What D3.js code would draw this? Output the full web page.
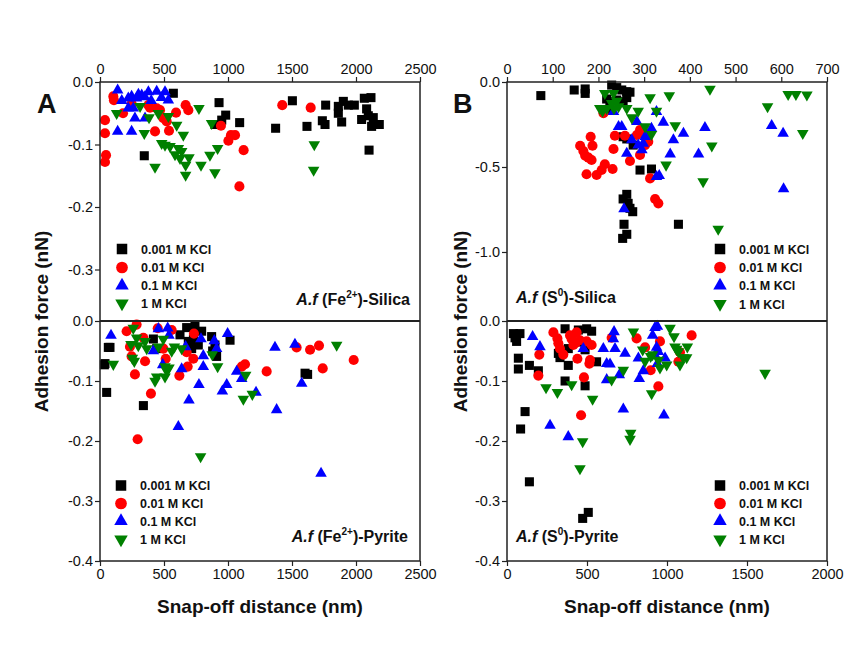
<!DOCTYPE html>
<html>
<head>
<meta charset="utf-8">
<script src="https://cdn.jsdelivr.net/npm/d3@7"></script>
<style>
  html, body { margin: 0; padding: 0; background: #fff; }
  svg { display: block; font-family: Arial, "Liberation Sans", sans-serif; }
</style>
</head>
<body>
<svg id="chart" width="863" height="658"></svg>
<script>
// ---------------- DATA ----------------
const seriesNames = ["0.001 M KCl", "0.01 M KCl", "0.1 M KCl", "1 M KCl"];
const seriesColors = ["#000000", "#ff0000", "#0000ff", "#008000"];

// Panel A top: A.f (Fe2+)-Silica  [snap-off distance nm, adhesion force nN]
const feSilica001 = [[346,-0.118],[573,-0.018],[930,-0.033],[982,-0.053],[951,-0.061],[898,-0.068],[1091,-0.065],[1372,-0.074],[1503,-0.03],[1617,-0.071],[1737,-0.062],[1758,-0.068],[1763,-0.037],[1888,-0.064],[1862,-0.039],[1901,-0.031],[1940,-0.037],[1987,-0.037],[1862,-0.05],[2065,-0.026],[2117,-0.025],[2083,-0.043],[2044,-0.06],[2096,-0.054],[2135,-0.057],[2122,-0.071],[2182,-0.068],[2102,-0.109]];
const feSilica01 = [[104,-0.023],[109,-0.029],[39,-0.061],[39,-0.082],[47,-0.117],[39,-0.128],[378,-0.037],[443,-0.042],[469,-0.045],[495,-0.058],[521,-0.063],[594,-0.049],[669,-0.037],[690,-0.045],[430,-0.079],[539,-0.078],[945,-0.07],[1023,-0.085],[1055,-0.085],[1003,-0.094],[1122,-0.109],[1089,-0.167],[1424,-0.037],[1646,-0.041],[391,-0.041],[247,-0.035],[180,-0.05]];
const feSilica1 = [[138,-0.013],[221,-0.026],[247,-0.023],[286,-0.026],[326,-0.021],[378,-0.016],[443,-0.015],[508,-0.016],[534,-0.029],[221,-0.042],[260,-0.042],[273,-0.058],[247,-0.079],[138,-0.079],[352,-0.058],[300,-0.02],[350,-0.024],[480,-0.025],[400,-0.03],[170,-0.03]];
const feSilica10 = [[130,-0.05],[313,-0.039],[456,-0.05],[534,-0.055],[599,-0.069],[383,-0.057],[346,-0.082],[651,-0.085],[773,-0.042],[872,-0.066],[482,-0.098],[508,-0.101],[547,-0.103],[612,-0.106],[638,-0.111],[586,-0.116],[625,-0.122],[695,-0.121],[669,-0.133],[669,-0.149],[430,-0.136],[789,-0.133],[859,-0.117],[919,-0.106],[898,-0.145],[1674,-0.1],[1669,-0.141]];

// Panel A bottom: A.f (Fe2+)-Pyrite
const fePyrite001 = [[65,-0.044],[78,-0.044],[39,-0.071],[34,-0.073],[52,-0.119],[339,-0.141],[417,-0.03],[443,-0.046],[625,-0.023],[677,-0.011],[742,-0.009],[794,-0.017],[690,-0.034],[716,-0.046],[768,-0.04],[872,-0.026],[898,-0.04],[911,-0.059],[1016,-0.032],[1602,-0.087],[1622,-0.089],[730,-0.03],[700,-0.04],[880,-0.05]];
const fePyrite01 = [[208,-0.017],[286,-0.006],[234,-0.043],[247,-0.059],[352,-0.067],[339,-0.028],[273,-0.089],[398,-0.121],[294,-0.197],[451,-0.012],[560,-0.015],[495,-0.046],[513,-0.063],[677,-0.052],[729,-0.063],[685,-0.076],[620,-0.091],[734,-0.021],[1107,-0.076],[1133,-0.072],[1302,-0.084],[1536,-0.044],[1641,-0.048],[1711,-0.041],[1740,-0.079],[1982,-0.065]];
const fePyrite1 = [[86,-0.024],[456,-0.013],[529,-0.012],[539,-0.024],[417,-0.05],[490,-0.073],[638,-0.08],[669,-0.043],[789,-0.03],[807,-0.058],[807,-0.076],[773,-0.106],[695,-0.132],[612,-0.176],[893,-0.033],[911,-0.046],[997,-0.021],[990,-0.106],[956,-0.117],[1107,-0.096],[1068,-0.084],[1219,-0.119],[1367,-0.044],[1380,-0.148],[1523,-0.039],[1576,-0.104],[1727,-0.254]];
const fePyrite10 = [[260,-0.012],[286,-0.028],[242,-0.039],[299,-0.041],[352,-0.034],[365,-0.046],[253,-0.062],[268,-0.067],[104,-0.072],[495,-0.03],[456,-0.043],[581,-0.043],[638,-0.046],[560,-0.05],[508,-0.076],[539,-0.078],[521,-0.083],[443,-0.093],[430,-0.1],[508,-0.093],[877,-0.056],[919,-0.076],[1138,-0.09],[1120,-0.13],[1190,-0.122],[1849,-0.04],[786,-0.226]];

// Panel B top: A.f (S0)-Silica (distance on 0-700 nm top axis)
const sSilica001 = [[74,-0.08],[147,-0.047],[171,-0.041],[171,-0.067],[229,-0.018],[240,-0.033],[251,-0.047],[262,-0.057],[269,-0.06],[218,-0.1],[225,-0.116],[240,-0.106],[254,-0.116],[262,-0.092],[224,-0.165],[254,-0.322],[262,-0.335],[276,-0.371],[291,-0.518],[316,-0.512],[262,-0.661],[254,-0.688],[265,-0.714],[269,-0.743],[275,-0.763],[256,-0.837],[262,-0.896],[253,-0.92],[375,-0.837]];
const sSilica01 = [[211,-0.184],[183,-0.322],[187,-0.375],[160,-0.375],[167,-0.406],[171,-0.433],[178,-0.445],[185,-0.459],[233,-0.394],[214,-0.484],[207,-0.518],[196,-0.547],[174,-0.543],[231,-0.512],[236,-0.316],[258,-0.316],[269,-0.465],[291,-0.429],[284,-0.312],[291,-0.282],[298,-0.302],[306,-0.322],[309,-0.351],[302,-0.371],[313,-0.567],[324,-0.688],[331,-0.714]];
const sSilica1 = [[233,-0.175],[244,-0.263],[251,-0.263],[262,-0.42],[273,-0.341],[284,-0.233],[287,-0.371],[295,-0.4],[298,-0.361],[302,-0.322],[306,-0.312],[316,-0.273],[327,-0.175],[342,-0.237],[357,-0.425],[364,-0.341],[386,-0.302],[419,-0.425],[433,-0.269],[579,-0.257],[604,-0.302],[605,-0.629],[327,-0.557],[333,-0.551],[256,-0.747]];
const sSilica10 = [[214,-0.067],[233,-0.067],[203,-0.155],[209,-0.171],[218,-0.155],[229,-0.125],[240,-0.112],[234,-0.157],[244,-0.145],[262,-0.155],[273,-0.21],[287,-0.171],[313,-0.092],[327,-0.171],[355,-0.08],[302,-0.263],[316,-0.308],[368,-0.257],[444,-0.041],[448,-0.375],[429,-0.586],[348,-0.488],[570,-0.145],[615,-0.072],[632,-0.072],[656,-0.076],[647,-0.302],[462,-0.865]];

// Panel B bottom: A.f (S0)-Pyrite
const sPyrite001 = [[40,-0.021],[81,-0.021],[60,-0.034],[71,-0.062],[71,-0.08],[140,-0.074],[196,-0.083],[363,-0.013],[383,-0.046],[321,-0.054],[331,-0.061],[383,-0.074],[363,-0.1],[446,-0.015],[498,-0.013],[529,-0.017],[488,-0.048],[488,-0.108],[560,-0.068],[113,-0.151],[85,-0.18],[140,-0.268],[473,-0.329],[508,-0.319],[50,-0.028],[470,-0.035]];
const sPyrite01 = [[290,-0.019],[315,-0.029],[321,-0.037],[331,-0.046],[352,-0.056],[394,-0.024],[404,-0.03],[435,-0.019],[456,-0.032],[431,-0.036],[415,-0.04],[498,-0.034],[529,-0.04],[519,-0.065],[515,-0.071],[440,-0.063],[202,-0.056],[196,-0.091],[481,-0.094],[463,-0.157],[654,-0.028],[810,-0.029],[863,-0.044],[956,-0.034],[898,-0.082],[946,-0.109],[1081,-0.052],[1071,-0.068],[1154,-0.024]];
const sPyrite1 = [[160,-0.026],[206,-0.043],[477,-0.046],[669,-0.018],[665,-0.03],[675,-0.046],[602,-0.046],[623,-0.071],[644,-0.072],[623,-0.098],[702,-0.09],[738,-0.054],[821,-0.062],[827,-0.096],[852,-0.083],[925,-0.011],[940,-0.009],[910,-0.024],[935,-0.044],[925,-0.057],[946,-0.051],[988,-0.062],[940,-0.071],[727,-0.147],[981,-0.157],[269,-0.174],[383,-0.193]];
const sPyrite10 = [[244,-0.111],[315,-0.119],[404,-0.106],[535,-0.13],[790,-0.018],[848,-0.048],[863,-0.067],[898,-0.059],[910,-0.056],[946,-0.065],[956,-0.078],[904,-0.121],[727,-0.082],[654,-0.098],[773,-0.187],[769,-0.197],[1019,-0.012],[1044,-0.026],[1050,-0.043],[1060,-0.047],[1081,-0.073],[1102,-0.061],[1123,-0.061],[1127,-0.043],[1071,-0.051],[998,-0.073],[1613,-0.087],[473,-0.201],[456,-0.246]];

// Tick values
const xTicksA = [0, 500, 1000, 1500, 2000, 2500];
const xTicksBtop = [0, 100, 200, 300, 400, 500, 600, 700];
const xTicksBbot = [0, 500, 1000, 1500, 2000];
const yTicksAtop = [0, -0.1, -0.2, -0.3];
const yTicksBtop = [0, -0.5, -1.0];
const yTicksBottom = [0, -0.1, -0.2, -0.3, -0.4];

// ---------------- DRAW ----------------
const svg = d3.select("#chart");
const axisColor = "#222";
const fmt1 = d => (Math.abs(d) < 1e-9 ? 0 : d).toFixed(1);

const panels = [
  {
    left: 100, right: 420, top: 82, mid: 321, bottom: 561,
    xTop: d3.scaleLinear().domain([0, 2500]).range([100, 420]),
    xBot: d3.scaleLinear().domain([0, 2500]).range([100, 420]),
    xTopTicks: xTicksA, xBotTicks: xTicksA,
    yTop: d3.scaleLinear().domain([-0.3824, 0]).range([321, 82]),
    yBot: d3.scaleLinear().domain([-0.4, 0]).range([561, 321]),
    yTopTicks: yTicksAtop,
    topData: [feSilica001, feSilica01, feSilica1, feSilica10],
    botData: [fePyrite001, fePyrite01, fePyrite1, fePyrite10],
    letter: "A", letterX: 37,
    ytitleX: 48,
    legTopX: 122, legTopY: [249, 267.5, 285.5, 303.5],
    legBotX: 121, legBotY: [485.5, 503.5, 521, 539.5],
    labTop: {x: 410, y: 305, anchor: "end", ion: "Fe", sup: "2+", tail: ")-Silica"},
    labBot: {x: 408, y: 542, anchor: "end", ion: "Fe", sup: "2+", tail: ")-Pyrite"}
  },
  {
    left: 507, right: 827, top: 82, mid: 321, bottom: 561,
    xTop: d3.scaleLinear().domain([0, 700]).range([507, 827]),
    xBot: d3.scaleLinear().domain([0, 2000]).range([507, 827]),
    xTopTicks: xTicksBtop, xBotTicks: xTicksBbot,
    yTop: d3.scaleLinear().domain([-1.406, 0]).range([321, 82]),
    yBot: d3.scaleLinear().domain([-0.4, 0]).range([561, 321]),
    yTopTicks: yTicksBtop,
    topData: [sSilica001, sSilica01, sSilica1, sSilica10],
    botData: [sPyrite001, sPyrite01, sPyrite1, sPyrite10],
    letter: "B", letterX: 453,
    ytitleX: 467,
    legTopX: 720, legTopY: [249, 267.5, 285.5, 304],
    legBotX: 720, legBotY: [485.5, 503.5, 521, 539.5],
    labTop: {x: 516, y: 303, anchor: "start", ion: "S", sup: "0", tail: ")-Silica"},
    labBot: {x: 516, y: 542, anchor: "start", ion: "S", sup: "0", tail: ")-Pyrite"}
  }
];

function symbolPath(i, big) {
  const k = big ? 1.35 : 1;
  if (i === 0) return d3.symbol(d3.symbolSquare, 82 * k)();
  if (i === 1) return d3.symbol(d3.symbolCircle, 80 * k)();
  return d3.symbol(d3.symbolTriangle, 58 * k)();
}
function symbolTransform(i, x, y) {
  return `translate(${x},${y})` + (i === 3 ? " rotate(180)" : "");
}

function styleAxis(g) {
  g.select(".domain").remove();
  g.selectAll(".tick line").attr("stroke", axisColor).attr("stroke-width", 1.2);
  g.selectAll(".tick text").attr("fill", "#111").style("font-size", "14.5px")
    .style("font-family", "Arial, 'Liberation Sans', sans-serif");
}

function drawPoints(data, xs, ys) {
  data.forEach((arr, i) => {
    svg.append("g").selectAll("path").data(arr).join("path")
      .attr("d", symbolPath(i, false))
      .attr("transform", d => symbolTransform(i, xs(d[0]), ys(d[1])))
      .attr("fill", seriesColors[i]);
  });
}

function drawLegend(x, ys) {
  seriesNames.forEach((name, i) => {
    svg.append("path")
      .attr("d", symbolPath(i, true))
      .attr("transform", symbolTransform(i, x, ys[i]))
      .attr("fill", seriesColors[i]);
    svg.append("text")
      .attr("x", x + 19).attr("y", ys[i] + 4.5)
      .attr("font-size", "12.5px").attr("font-weight", "bold").attr("fill", "#111")
      .text(name);
  });
}

function drawLabel(l) {
  const t = svg.append("text").attr("x", l.x).attr("y", l.y)
    .attr("text-anchor", l.anchor).attr("font-size", "16px")
    .attr("font-weight", "bold").attr("fill", "#111");
  t.append("tspan").attr("font-style", "italic").text("A.f");
  t.append("tspan").text(" (" + l.ion);
  t.append("tspan").attr("dy", -7).attr("font-size", "10px").text(l.sup);
  t.append("tspan").attr("dy", 7).text(l.tail);
}

panels.forEach(p => {
  // points
  drawPoints(p.topData, p.xTop, p.yTop);
  drawPoints(p.botData, p.xBot, p.yBot);

  // frame
  svg.append("rect").attr("x", p.left).attr("y", p.top)
    .attr("width", p.right - p.left).attr("height", p.bottom - p.top)
    .attr("fill", "none").attr("stroke", axisColor).attr("stroke-width", 1.5);
  svg.append("line").attr("x1", p.left).attr("x2", p.right)
    .attr("y1", p.mid).attr("y2", p.mid)
    .attr("stroke", axisColor).attr("stroke-width", 2);

  // axes
  svg.append("g").attr("transform", `translate(0,${p.top})`)
    .call(d3.axisTop(p.xTop).tickValues(p.xTopTicks).tickSize(5).tickPadding(3).tickFormat(d3.format("d")))
    .call(styleAxis);
  svg.append("g").attr("transform", `translate(0,${p.bottom})`)
    .call(d3.axisBottom(p.xBot).tickValues(p.xBotTicks).tickSize(5).tickPadding(3).tickFormat(d3.format("d")))
    .call(styleAxis);
  svg.append("g").attr("transform", `translate(${p.left},0)`)
    .call(d3.axisLeft(p.yTop).tickValues(p.yTopTicks).tickSize(5).tickPadding(2).tickFormat(fmt1))
    .call(styleAxis);
  svg.append("g").attr("transform", `translate(${p.left},0)`)
    .call(d3.axisLeft(p.yBot).tickValues(yTicksBottom).tickSize(5).tickPadding(2).tickFormat(fmt1))
    .call(styleAxis);

  // legends + labels
  drawLegend(p.legTopX, p.legTopY);
  drawLegend(p.legBotX, p.legBotY);
  drawLabel(p.labTop);
  drawLabel(p.labBot);

  // panel letter
  svg.append("text").attr("x", p.letterX).attr("y", 113)
    .attr("font-size", "27px").attr("font-weight", "bold").attr("fill", "#111")
    .text(p.letter);

  // axis titles
  svg.append("text")
    .attr("transform", `translate(${p.ytitleX},${(p.top + p.bottom) / 2}) rotate(-90)`)
    .attr("text-anchor", "middle").attr("font-size", "19px").attr("font-weight", "bold")
    .attr("fill", "#111").text("Adhesion force (nN)");
  svg.append("text")
    .attr("x", (p.left + p.right) / 2).attr("y", 613)
    .attr("text-anchor", "middle").attr("font-size", "19px").attr("font-weight", "bold")
    .attr("fill", "#111").text("Snap-off distance (nm)");
});
</script>
</body>
</html>
